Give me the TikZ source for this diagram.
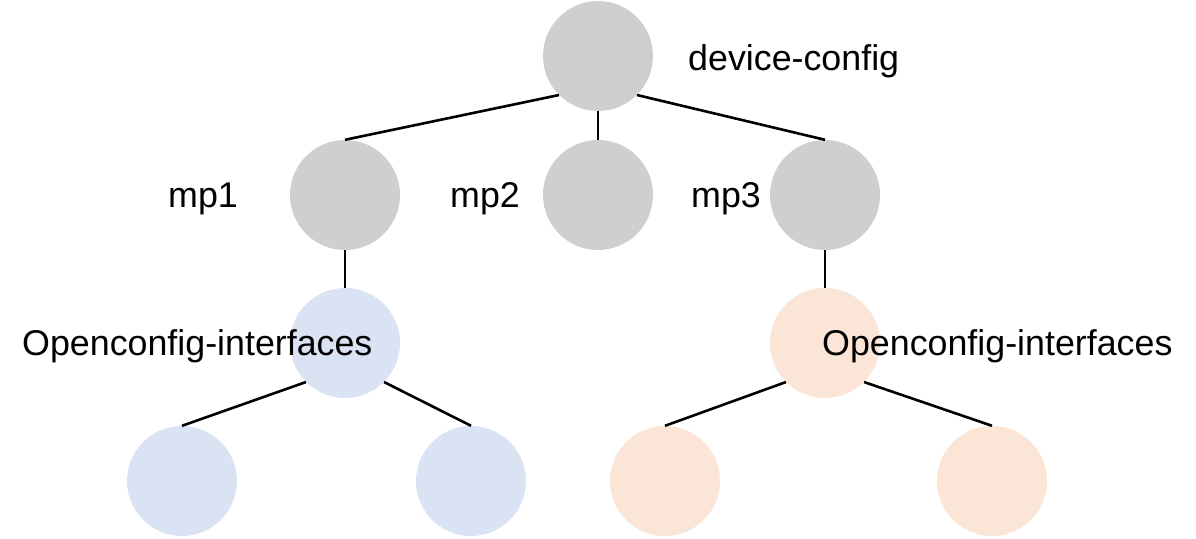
\documentclass[tikz,border=0pt]{standalone}
\usepackage{fontspec}
\setmainfont{Liberation Sans}
\definecolor{cgray}{HTML}{D0CECE}
\definecolor{cblue}{HTML}{DAE3F3}
\definecolor{corange}{HTML}{FBE5D6}
\begin{document}
\begin{tikzpicture}[x=1pt,y=-1pt,
  dot/.style={circle,minimum size=110pt,inner sep=0pt,draw=none},
  gdot/.style={dot,fill=cgray},
  bdot/.style={dot,fill=cblue},
  odot/.style={dot,fill=corange},
  edge/.style={line width=2.6pt,black},
  lbl/.style={anchor=base west,inner sep=0pt,font=\fontsize{35.8pt}{40pt}\selectfont}]
\useasboundingbox (0,0) rectangle (1196,538);
\node[gdot] (top) at (598,56) {};
\node[gdot] (mp1) at (345,195) {};
\node[gdot] (mp2) at (598,195) {};
\node[gdot] (mp3) at (825,195) {};
\node[bdot] (oi1) at (345,343) {};
\node[odot] (oi3) at (825,343) {};
\node[bdot] (b1) at (182,481) {};
\node[bdot] (b2) at (471,481) {};
\node[odot] (o1) at (665,481) {};
\node[odot] (o2) at (992,481) {};
\draw[edge] (top.south west) -- (mp1.north);
\draw[edge] (top.south) -- (mp2.north);
\draw[edge] (top.south east) -- (mp3.north);
\draw[edge] (mp1.south) -- (oi1.north);
\draw[edge] (mp3.south) -- (oi3.north);
\draw[edge] (oi1.south west) -- (b1.north);
\draw[edge] (oi1.south east) -- (b2.north);
\draw[edge] (oi3.south west) -- (o1.north);
\draw[edge] (oi3.south east) -- (o2.north);
\node[lbl] (tdc) at (688,70) {device-config};
\node[lbl] (tmp1) at (168,207) {mp1};
\node[lbl] (tmp2) at (450,207) {mp2};
\node[lbl] (tmp3) at (691,207) {mp3};
\node[lbl] (toi1) at (22,355) {Openconfig-interfaces};
\node[lbl] (toi3) at (822,355) {Openconfig-interfaces};
\end{tikzpicture}
\end{document}
